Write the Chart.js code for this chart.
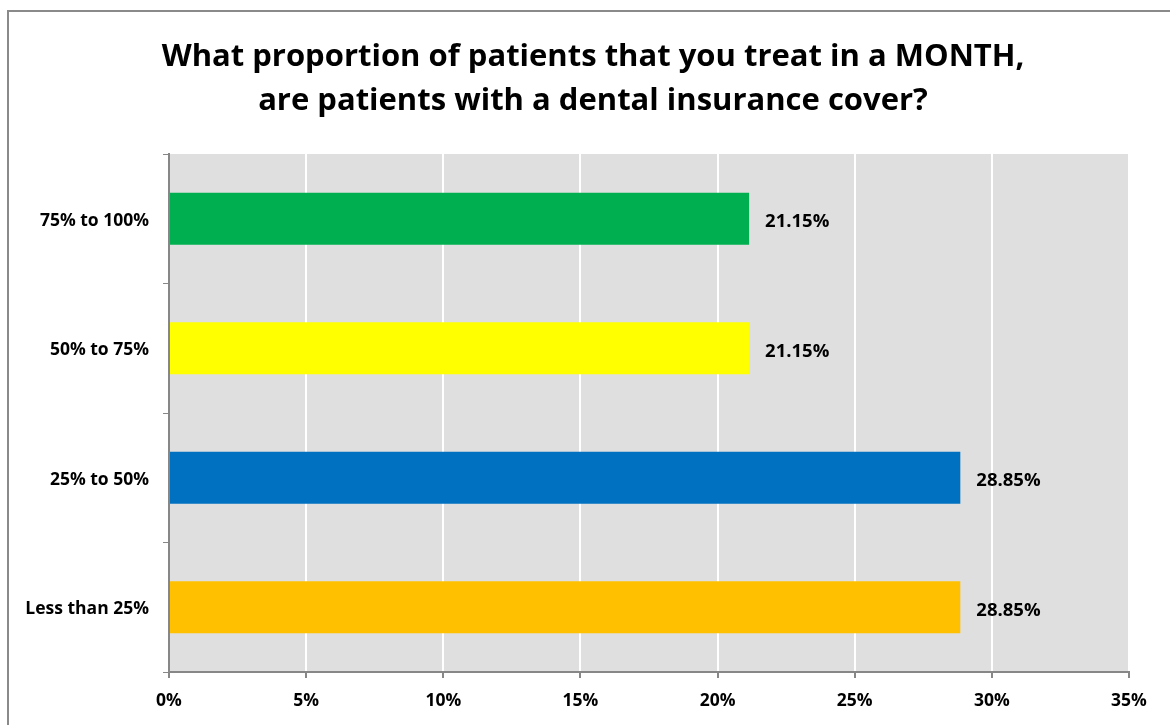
<!DOCTYPE html>
<html>
<head>
<meta charset="utf-8">
<script src="https://cdn.jsdelivr.net/npm/chart.js@4"></script>
<style>
  body { margin: 0; background: #fff; }
  canvas { display: block; }
</style>
</head>
<body>
<canvas id="myChart" width="1170" height="725"></canvas>
<script>
const ctx = document.getElementById('myChart');

// chart data
const titleLines = [
    'What proportion of patients that you treat in a MONTH,',
    'are patients with a dental insurance cover?'
];
const categories = ['75% to 100%', '50% to 75%', '25% to 50%', 'Less than 25%'];
const percentages = [21.15, 21.15, 28.85, 28.85];
const barColors = ['#00B050', '#FFFF00', '#0070C0', '#FFC000'];
const xTicks = [0, 5, 10, 15, 20, 25, 30, 35];

const axisGrey = '#878787';
const fontFamily = '"Open Sans", sans-serif';

// grey plot background, outer frame and the two title lines
const backdrop = {
    id: 'backdrop',
    beforeDraw(chart) {
        const c = chart.ctx;
        const a = chart.chartArea;
        c.save();
        c.fillStyle = '#DFDFDF';
        c.fillRect(a.left, a.top, a.right - a.left, a.bottom - a.top);

        c.strokeStyle = '#8A8A8A';
        c.lineWidth = 2;
        c.strokeRect(8, 11, 1300, 900);

        c.fillStyle = '#000';
        c.font = 'bold 31px ' + fontFamily;
        c.textAlign = 'center';
        c.textBaseline = 'alphabetic';
        titleLines.forEach((line, i) => {
            c.fillText(line, 593, 66 + i * 44);
        });
        c.restore();
    }
};

// value labels to the right of each bar
const valueLabels = {
    id: 'valueLabels',
    afterDatasetsDraw(chart) {
        const c = chart.ctx;
        const meta = chart.getDatasetMeta(0);
        c.save();
        c.fillStyle = '#000';
        c.font = 'bold 18.5px ' + fontFamily;
        c.textAlign = 'left';
        c.textBaseline = 'middle';
        meta.data.forEach((bar, i) => {
            c.fillText(percentages[i].toFixed(2) + '%', bar.x + 16, bar.y + 3);
        });
        c.restore();
    }
};

const myChart = new Chart(ctx, {
    type: 'bar',
    data: {
        labels: categories,
        datasets: [{
            data: percentages,
            backgroundColor: barColors,
            borderWidth: 0,
            categoryPercentage: 1,
            barPercentage: 0.4
        }]
    },
    options: {
        indexAxis: 'y',
        responsive: false,
        animation: false,
        layout: {
            padding: { top: 154, right: 41, left: 0, bottom: 0 }
        },
        scales: {
            x: {
                min: 0,
                max: 35,
                afterBuildTicks: scale => {
                    scale.ticks = xTicks.map(v => ({ value: v }));
                },
                afterFit: scale => { scale.height = 53; },
                ticks: {
                    callback: value => value + '%',
                    color: '#000',
                    padding: 13,
                    font: { family: fontFamily, size: 17.5, weight: 'bold' }
                },
                grid: {
                    color: c => c.tick && c.tick.value === 0 ? 'rgba(0,0,0,0)' : '#FFFFFF',
                    lineWidth: 2,
                    tickColor: axisGrey,
                    tickLength: 6
                },
                border: { color: axisGrey, width: 2 }
            },
            y: {
                afterFit: scale => { scale.width = 169; },
                ticks: {
                    color: '#000',
                    padding: 14,
                    font: { family: fontFamily, size: 17.5, weight: 'bold', lineHeight: 1.4 },
                    labelOffset: 2
                },
                grid: {
                    drawOnChartArea: false,
                    tickColor: axisGrey,
                    tickLength: 6,
                    offset: true
                },
                border: { color: axisGrey, width: 2 }
            }
        },
        plugins: {
            legend: { display: false },
            title: { display: false },
            tooltip: { enabled: false }
        }
    },
    plugins: [backdrop, valueLabels]
});
</script>
</body>
</html>
